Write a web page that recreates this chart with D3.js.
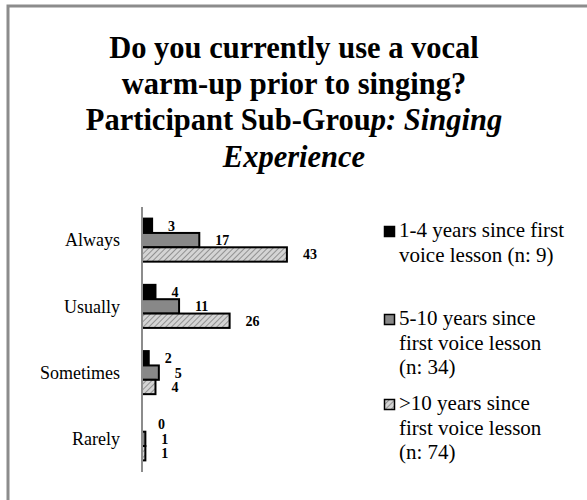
<!DOCTYPE html>
<html>
<head>
<meta charset="utf-8">
<script src="https://cdn.jsdelivr.net/npm/d3@7"></script>
<style>
  body { margin: 0; background: #fff; }
  svg { display: block; font-family: "Liberation Serif", "Times New Roman", serif; }
</style>
</head>
<body>
<svg id="chart" width="587" height="500"></svg>
<script>
// answers (y categories) and the three experience sub-groups
var categories = ['Always', 'Usually', 'Sometimes', 'Rarely']
var groups = ['1-4', '5-10', '>10']
var values1to4 = [3, 4, 2, 0]
var values5to10 = [17, 11, 5, 1]
var valuesOver10 = [43, 26, 4, 1]
var legendLines = [
    ['1-4 years since first', 'voice lesson (n: 9)'],
    ['5-10 years since', 'first voice lesson', '(n: 34)'],
    ['>10 years since', 'first voice lesson', '(n: 74)']
]
var xMax = 50

var seriesVals = [values1to4, values5to10, valuesOver10]
var fills = ['#000', '#888', 'url(#hatch)']

var svg = d3.select('#chart')

// hatch pattern for the >10 years group
var defs = svg.append('defs')
var pat = defs.append('pattern').attr('id', 'hatch')
    .attr('patternUnits', 'userSpaceOnUse')
    .attr('width', 4).attr('height', 4)
    .attr('patternTransform', 'rotate(45)')
pat.append('rect').attr('width', 4).attr('height', 4).attr('fill', '#d4d4d4')
pat.append('line').attr('x1', 0).attr('y1', 0).attr('x2', 0).attr('y2', 4)
    .attr('stroke', '#808080').attr('stroke-width', 1.6)

// frame (the picture is cropped, only top and left edges show)
svg.append('path').attr('d', 'M8,500 L8,6 L587,6')
    .attr('fill', 'none').attr('stroke', '#8c8c8c').attr('stroke-width', 3)

// title
var title = svg.append('text').attr('text-anchor', 'middle')
    .style('font-size', '30.5px').style('font-weight', 'bold')
var titleX = 294
title.append('tspan').attr('x', titleX).attr('y', 58).text('Do you currently use a vocal')
title.append('tspan').attr('x', titleX).attr('y', 94).text('warm-up prior to singing?')
var t3 = title.append('tspan').attr('x', titleX).attr('y', 130)
t3.append('tspan').text('Participant Sub-Grou')
t3.append('tspan').style('font-style', 'italic').text('p: Singing')
title.append('tspan').attr('x', titleX).attr('y', 167).style('font-style', 'italic').text('Experience')

// scales
var x = d3.scaleLinear().domain([0, xMax]).range([142, 142 + 3.37 * xMax])
var y = d3.scaleBand().domain(categories).range([207, 472]).paddingInner(0.35).paddingOuter(0.175)
var ySub = d3.scaleBand().domain(groups).range([0, y.bandwidth()])

// bars
var g = svg.append('g')
var rows = []
categories.forEach(function(c, i) {
    groups.forEach(function(s, j) {
        rows.push({cat: c, grp: s, v: seriesVals[j][i], j: j})
    })
})

g.selectAll('.bar').data(rows.filter(d => d.v > 0)).enter()
    .append('rect').attr('class', 'bar')
    .attr('x', x(0))
    .attr('y', d => y(d.cat) + ySub(d.grp))
    .attr('width', d => x(d.v) - x(0))
    .attr('height', ySub.bandwidth())
    .attr('fill', d => fills[d.j])
    .attr('stroke', '#000').attr('stroke-width', 2)

// value labels
g.selectAll('.lbl').data(rows).enter()
    .append('text').attr('class', 'lbl')
    .attr('x', d => x(d.v) + 16)
    .attr('y', d => y(d.cat) + ySub(d.grp) + ySub.bandwidth() / 2)
    .attr('dy', '0.35em')
    .style('font-size', '14px').style('font-weight', 'bold')
    .text(d => d.v)

// axis line
svg.append('line').attr('x1', x(0)).attr('x2', x(0))
    .attr('y1', y.range()[0]).attr('y2', y.range()[1])
    .attr('stroke', '#8c8c8c').attr('stroke-width', 2)

// category labels
svg.selectAll('.cat').data(categories).enter()
    .append('text').attr('class', 'cat')
    .attr('x', 120).attr('y', d => y(d) + y.bandwidth() / 2)
    .attr('dy', '0.35em').attr('text-anchor', 'end')
    .style('font-size', '18px')
    .text(d => d)

// legend
var legendY = [237, 325, 410]
var leg = svg.selectAll('.leg').data(legendLines).enter()
    .append('g').attr('class', 'leg')
    .attr('transform', (d, i) => `translate(384, ${legendY[i]})`)
leg.append('rect').attr('x', 0.5).attr('y', -10.5).attr('width', 10).attr('height', 10)
    .attr('fill', (d, i) => fills[i]).attr('stroke', '#000').attr('stroke-width', 1.5)
leg.append('text').style('font-size', '21px')
    .selectAll('tspan').data(d => d).enter()
    .append('tspan').attr('x', 15).attr('y', (d, k) => k * 24.5)
    .text(d => d)
</script>
</body>
</html>
